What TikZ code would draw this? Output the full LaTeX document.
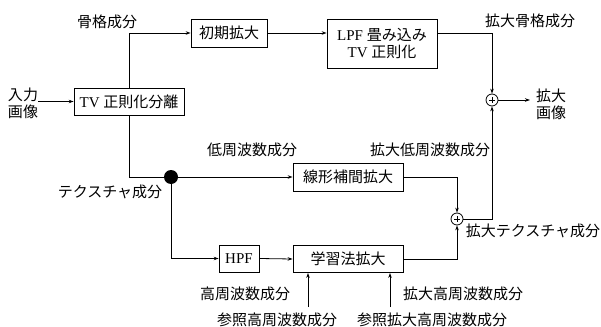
\documentclass[tikz,border=0pt]{standalone}
\usepackage{fontspec}
\setmainfont{Liberation Serif}
\newfontfamily\jp{Noto Sans CJK JP}
\usetikzlibrary{arrows.meta,calc}
\tikzset{
  blk/.style={draw, line width=0.8pt, minimum height=27pt, inner sep=0pt, font=\fontsize{15}{17}\selectfont},
  lbl/.style={inner sep=0pt, font=\fontsize{15}{17}\selectfont\jp, align=center},
  conn/.style={line width=0.8pt},
  arr/.style={conn, -{Stealth[length=5pt,width=3.5pt]}},
  sumc/.style={draw, circle, line width=0.8pt, minimum size=12pt, inner sep=0pt}
}
\begin{document}
\begin{tikzpicture}[x=1pt,y=-1pt]
\useasboundingbox (0,0) rectangle (601,326);
% boxes
\node[blk, minimum width=110pt] (tv) at (129,101.5) {TV {\jp 正則化分離}};
\node[blk, minimum width=76pt, minimum height=28pt] (init) at (229,33) {\jp 初期拡大};
\node[blk, minimum width=110pt, minimum height=49pt, align=center] (lpf) at (382,43.5) {LPF {\jp 畳み込み}\\TV {\jp 正則化}};
\node[blk, minimum width=110pt, minimum height=28pt] (lin) at (348,177) {\jp 線形補間拡大};
\node[blk, minimum width=40pt] (hpf) at (239,258.5) {HPF};
\node[blk, minimum width=110pt] (learn) at (348,259) {\jp 学習法拡大};
% junctions
\node[sumc] (p1) at (492,100) {};
\node[sumc] (p2) at (457,219) {};
\foreach \p in {p1,p2}{
  \draw[line width=0.6pt] ($(\p.center)+(-3,0)$) -- ($(\p.center)+(3,0)$);
  \draw[line width=0.6pt] ($(\p.center)+(0,-3)$) -- ($(\p.center)+(0,3)$);
}
\node[circle, fill=black, minimum size=14pt, inner sep=0pt] (dot) at (171,177) {};
% labels
\node[lbl] (inp) at (23,103) {入力\\画像};
\node[lbl] (outl) at (551,104) {拡大\\画像};
\node[lbl] (l1) at (107,22) {骨格成分};
\node[lbl] (l2) at (530,21) {拡大骨格成分};
\node[lbl] (l3) at (252,150) {低周波数成分};
\node[lbl] (l4) at (430,150) {拡大低周波数成分};
\node[lbl] (l5) at (110,192) {テクスチャ成分};
\node[lbl] (l6) at (533,231) {拡大テクスチャ成分};
\node[lbl] (l7) at (245,294) {高周波数成分};
\node[lbl] (l8) at (463,294) {拡大高周波数成分};
\node[lbl] (l9) at (277,320) {参照高周波数成分};
\node[lbl] (l10) at (432,320) {参照拡大高周波数成分};
% coordinates
\coordinate (outend) at (530,100);
\coordinate (r1) at (308,307);
\coordinate (r2) at (390,307);
% connectors
\draw[arr] (inp.east |- tv.west) -- (tv.west);
\draw[arr] (tv.north) |- (init.west);
\draw[arr] (init.east) -- (init.east -| lpf.west);
\draw[arr] (lpf.east |- init.east) -| (p1.north);
\draw[arr] (p1.east) -- (outend);
\draw[conn] (tv.south) |- (dot.center);
\draw[arr] (dot.center) -- (lin.west);
\draw[arr] (dot.center) |- (hpf.west);
\draw[arr] (hpf.east) -- (learn.west);
\draw[arr] (lin.east) -| (p2.north);
\draw[arr] (learn.east) -| (p2.south);
\draw[arr] (p2.east) -| (p1.south);
\draw[arr] (r1) -- (r1 |- learn.south);
\draw[arr] (r2) -- (r2 |- learn.south);
\end{tikzpicture}
\end{document}
